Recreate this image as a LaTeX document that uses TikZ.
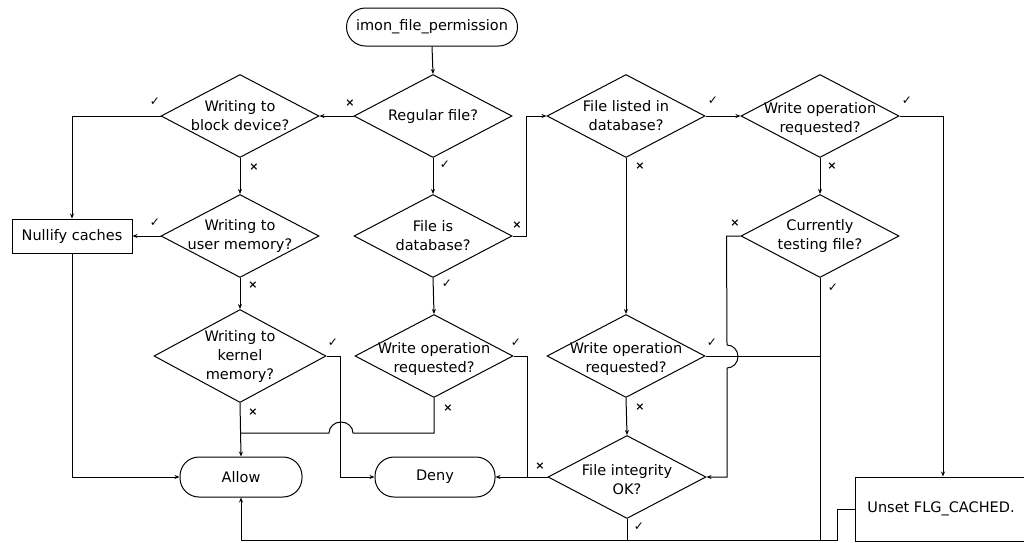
\documentclass[tikz,border=0pt]{standalone}
\usepackage{fontspec}
\setmainfont{DejaVu Sans}
\usetikzlibrary{shapes.geometric,arrows.meta}

\begin{document}
\begin{tikzpicture}[x=1pt,y=-1pt,
  line width=1pt,
  every node/.style={font=\fontsize{14.5}{19}\selectfont},
  dec/.style={diamond, draw, inner sep=0pt, minimum width=158pt, minimum height=83pt},
  bigdec/.style={dec, minimum width=172pt, minimum height=93pt},
  dtxt/.style={align=center, inner sep=0pt},
  term/.style={draw, rounded corners=19pt, minimum width=122pt, minimum height=40pt, inner sep=0pt},
  box/.style={draw, inner sep=0pt},
  arr/.style={-{Stealth[length=5pt,width=4pt]}},
  ckm/.style={font=\fontsize{12}{12}\selectfont, inner sep=0pt},
  crs/.style={font=\fontsize{11}{11}\selectfont\bfseries, inner sep=0pt},
]
\useasboundingbox[fill=white] (0,0) rectangle (1024,542);

% terminals and boxes
\node[term, minimum width=171pt, minimum height=38pt] (start) at (432,27) {imon\_file\_permission};
\node[term] (allow) at (241,477) {Allow};
\node[term, minimum width=120pt] (deny) at (435,477) {Deny};
\node[box, minimum width=120pt, minimum height=34pt] (nul) at (72,236) {Nullify caches};
\node[box, minimum width=176pt, minimum height=64pt] (uns) at (943,509) {};
\node[inner sep=0pt] (unsT) at (941,509) {Unset FLG\_CACHED.};

% decisions
\node[dec, label={[dtxt]center:Regular file?}] (reg) at (433,116) {};
\node[dec, label={[dtxt]center:Writing to\\block device?}] (blk) at (240,116) {};
\node[dec, label={[dtxt]center:Writing to\\user memory?}] (usr) at (240,236) {};
\node[bigdec, label={[dtxt]center:Writing to\\kernel\\memory?}] (ker) at (240,356) {};
\node[dec, label={[dtxt]center:File is\\database?}] (fdb) at (433,236) {};
\node[dec, label={[dtxt, yshift=-3pt]center:Write operation\\requested?}] (wo1) at (434,356) {};
\node[dec, label={[dtxt]center:File listed in\\database?}] (flst) at (626,116) {};
\node[dec, label={[dtxt, yshift=-3pt]center:Write operation\\requested?}] (wo2) at (820,116) {};
\node[dec, label={[dtxt]center:Currently\\testing file?}] (cur) at (820,236) {};
\node[dec, label={[dtxt, yshift=-3pt]center:Write operation\\requested?}] (wo3) at (626,356) {};
\node[dec, label={[dtxt, yshift=-3pt]center:File integrity\\OK?}] (fint) at (627,477) {};

% junction points on existing lines
\coordinate (jA) at (240,433);
\coordinate (jB) at (527,477);
\coordinate (jC) at (820,540);

% connectors
\draw[arr] (start.south) -- (reg.north);
\draw[arr] (reg.west) -- (blk.east);
\draw[arr] (reg.south) -- (fdb.north);
\draw[arr] (blk.west) -| (nul.north);
\draw[arr] (blk.south) -- (usr.north);
\draw[arr] (usr.west) -- (nul.east);
\draw[arr] (usr.south) -- (ker.north);
\draw[arr] (nul.south) |- (allow.west);
\draw[arr] (ker.south) -- (allow.north);
\draw[arr] (ker.east) -- ++(14,0) |- (deny.west);
\draw[arr] (fdb.south) -- (wo1.north);
\draw (wo1.south) |- (353,433) arc[start angle=0, end angle=180, x radius=12pt, y radius=11pt] -- (jA);
\draw (wo1.east) -| (jB);
\draw[arr] (fdb.east) -- ++(14,0) |- (flst.west);
\draw[arr] (flst.east) -- (wo2.west);
\draw[arr] (flst.south) -- (wo3.north);
\draw[arr] (wo2.east) -| (uns.north);
\draw[arr] (wo2.south) -- (cur.north);
\draw[arr] (cur.west) -- ++(-14,0) -- (727,345)
  arc[start angle=90, end angle=-90, x radius=11pt, y radius=11.5pt] |- (fint.east);
\draw (cur.south) -- (jC);
\draw (wo3.east) -- (cur.south |- wo3.east);
\draw[arr] (wo3.south) -- (fint.north);
\draw[arr] (fint.west) -- (deny.east);
\draw (fint.south) -- (fint.south |- jC);
\draw[arr] (uns.west) -- ++(-17,0) -- ++(0,31) -| (allow.south);

% branch marks
\node[crs] (x1) at (350,103) {×};
\node[ckm] (y1) at (445,165) {✓};
\node[ckm] (y2) at (155,102) {✓};
\node[crs] (x2) at (254,167) {×};
\node[ckm] (y3) at (155,223) {✓};
\node[crs] (x3) at (253,285) {×};
\node[ckm] (y4) at (447,284) {✓};
\node[ckm] (y5) at (333,343) {✓};
\node[crs] (x4) at (253,412) {×};
\node[ckm] (y6) at (516,343) {✓};
\node[crs] (x5) at (448,408) {×};
\node[crs] (x6) at (517,225) {×};
\node[ckm] (y7) at (713,101) {✓};
\node[crs] (x7) at (640,166) {×};
\node[ckm] (y8) at (907,101) {✓};
\node[crs] (x8) at (832,166) {×};
\node[crs] (x9) at (735,223) {×};
\node[ckm] (y9) at (833,288) {✓};
\node[ckm] (y10) at (712,343) {✓};
\node[crs] (x10) at (640,407) {×};
\node[crs] (x11) at (540,466) {×};
\node[ckm] (y11) at (639,527) {✓};
\end{tikzpicture}
\end{document}
